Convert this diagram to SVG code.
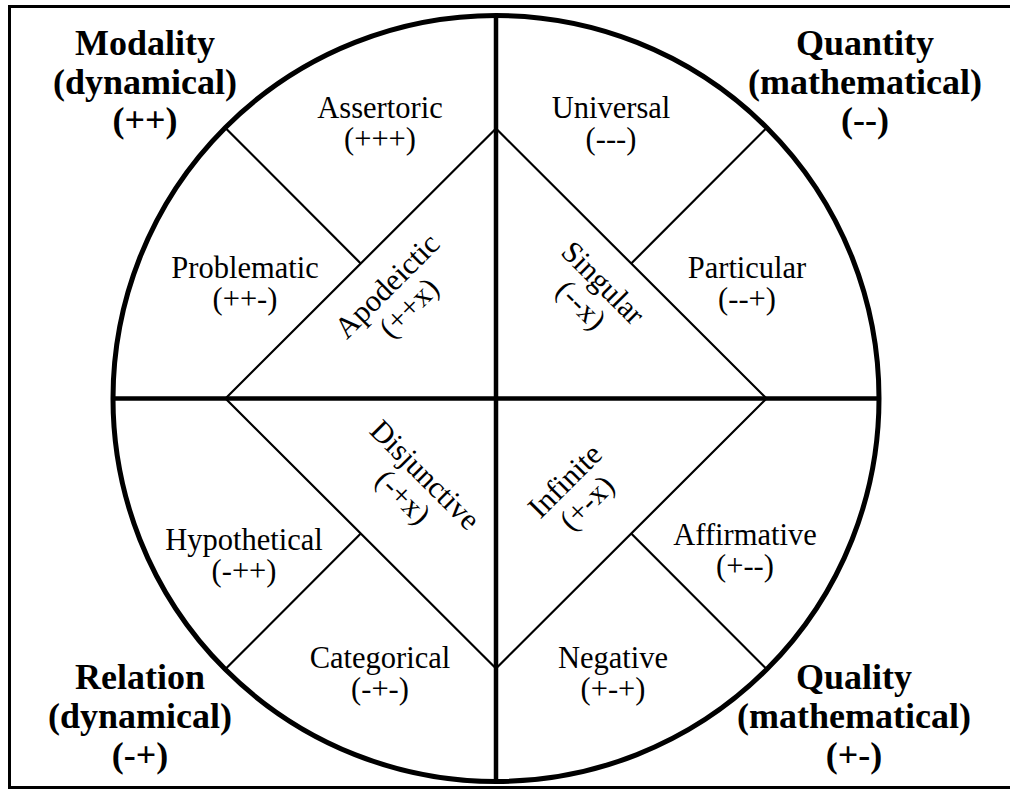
<svg xmlns="http://www.w3.org/2000/svg" width="1010" height="789" viewBox="0 0 1010 789">
<style>
.frame{fill:none;stroke:#000;stroke-width:3}
.circ{fill:none;stroke:#000;stroke-width:5}
.thick{fill:none;stroke:#000;stroke-width:4.5}
.thin{fill:none;stroke:#000;stroke-width:2.2}
.t{font-family:"Liberation Serif","Times New Roman",serif;font-size:30.5px;fill:#000;text-anchor:middle}
.h{font-family:"Liberation Serif","Times New Roman",serif;font-size:36px;font-weight:bold;fill:#000;text-anchor:middle}
</style>
<rect width="1010" height="789" fill="#fff"/>
<rect class="frame" x="9.5" y="6.5" width="1010" height="781"/>
<g id="connectors">
<circle class="circ" cx="496" cy="398.5" r="383"/>
<line class="thick" x1="496" y1="15.5" x2="496" y2="781.5"/>
<line class="thick" x1="113" y1="398.5" x2="879" y2="398.5"/>
<polygon class="thin" points="496,128.5 766.5,398.5 496,668.5 225.5,398.5"/>
<line class="thin" x1="360.75" y1="263.5" x2="225.2" y2="127.7"/>
<line class="thin" x1="631.25" y1="263.5" x2="766.8" y2="127.7"/>
<line class="thin" x1="360.75" y1="533.5" x2="225.2" y2="669.3"/>
<line class="thin" x1="631.25" y1="533.5" x2="766.8" y2="669.3"/>
</g>
<g id="modality"><text class="h" x="145" y="55">Modality</text><text class="h" x="145" y="93.5">(dynamical)</text><text class="h" x="145" y="132">(++)</text></g>
<g id="quantity"><text class="h" x="865" y="55">Quantity</text><text class="h" x="865" y="93.5">(mathematical)</text><text class="h" x="865" y="132">(--)</text></g>
<g id="relation"><text class="h" x="140" y="689">Relation</text><text class="h" x="140" y="728">(dynamical)</text><text class="h" x="140" y="767">(-+)</text></g>
<g id="quality"><text class="h" x="854" y="689">Quality</text><text class="h" x="854" y="728">(mathematical)</text><text class="h" x="854" y="767">(+-)</text></g>
<g id="assertoric"><text class="t" x="380" y="118">Assertoric</text><text class="t" x="380" y="149">(+++)</text></g>
<g id="universal"><text class="t" x="611" y="118">Universal</text><text class="t" x="611" y="149">(---)</text></g>
<g id="problematic"><text class="t" x="245" y="278">Problematic</text><text class="t" x="245" y="309">(++-)</text></g>
<g id="particular"><text class="t" x="747" y="278">Particular</text><text class="t" x="747" y="309">(--+)</text></g>
<g id="hypothetical"><text class="t" x="244" y="550">Hypothetical</text><text class="t" x="244" y="581">(-++)</text></g>
<g id="affirmative"><text class="t" x="745" y="545">Affirmative</text><text class="t" x="745" y="576">(+--)</text></g>
<g id="categorical"><text class="t" x="380" y="668">Categorical</text><text class="t" x="380" y="699">(-+-)</text></g>
<g id="negative"><text class="t" x="613" y="668">Negative</text><text class="t" x="613" y="699">(+-+)</text></g>
<g id="apodeictic" transform="translate(394,293) rotate(-45)"><text class="t" x="0" y="0">Apodeictic</text><text class="t" x="0" y="31">(++x)</text></g>
<g id="singular" transform="translate(596,290) rotate(45)"><text class="t" x="0" y="0">Singular</text><text class="t" x="0" y="31">(--x)</text></g>
<g id="disjunctive" transform="translate(418,482) rotate(45)"><text class="t" x="0" y="0">Disjunctive</text><text class="t" x="0" y="31">(-+x)</text></g>
<g id="infinite" transform="translate(572,488) rotate(-45)"><text class="t" x="0" y="0">Infinite</text><text class="t" x="0" y="31">(+-x)</text></g>
</svg>
